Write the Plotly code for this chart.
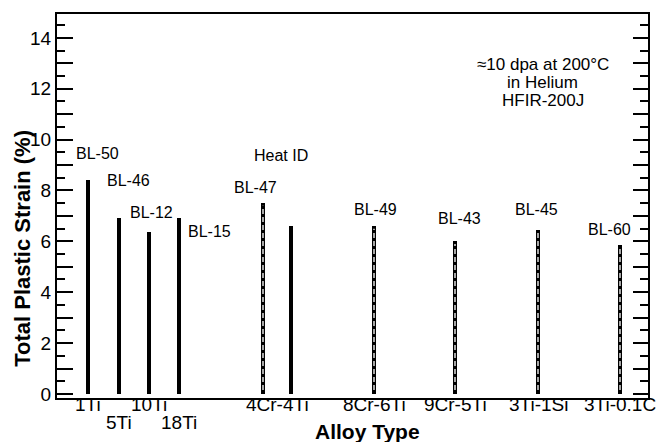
import plotly.graph_objects as go

# ---------------- data ----------------
alloys = ["1Ti", "5Ti", "10Ti", "18Ti", "4Cr-4Ti", "8Cr-6Ti", "9Cr-5Ti", "3Ti-1Si", "3Ti-0.1C"]
heat_ids = ["BL-50", "BL-46", "BL-12", "BL-15", "BL-47", "", "BL-49", "BL-43", "BL-45", "BL-60"]
heat_alloy = ["1Ti", "5Ti", "10Ti", "18Ti", "4Cr-4Ti", "4Cr-4Ti", "8Cr-6Ti", "9Cr-5Ti", "3Ti-1Si", "3Ti-0.1C"]
strain = [8.4, 6.9, 6.35, 6.9, 7.5, 6.6, 6.6, 6.0, 6.45, 5.85]
hatched = [False, False, False, False, True, False, True, True, True, True]

# ---------------- layout helpers ----------------
alloy_pos = {"1Ti": 31, "5Ti": 62, "10Ti": 92, "18Ti": 122, "4Cr-4Ti": 220,
             "8Cr-6Ti": 317, "9Cr-5Ti": 398, "3Ti-1Si": 481, "3Ti-0.1C": 563}
bar_offset = [0, 0, 0, 0, -14, 14, 0, 0, 0, 0]
label_row = {"5Ti": 1, "18Ti": 1}
label_off = [(9, 1.05), (9, 1.5), (2, 0.8), (30, -0.5), (-8, 0.62), (0, 0),
             (1, 0.67), (4, 0.88), (-2, 0.82), (-11, 0.6)]

FONT = "Liberation Sans, Arial, Helvetica, sans-serif"
YRANGE = [-0.16, 14.94]

bx = [alloy_pos[a] + o for a, o in zip(heat_alloy, bar_offset)]

fig = go.Figure()

solid_x = [x for x, h in zip(bx, hatched) if not h]
solid_y = [v for v, h in zip(strain, hatched) if not h]
hat_x = [x for x, h in zip(bx, hatched) if h]
hat_y = [v for v, h in zip(strain, hatched) if h]

fig.add_trace(go.Bar(x=solid_x, y=solid_y, width=3.5, marker=dict(color="black", line=dict(width=0)),
                     showlegend=False, hoverinfo="skip"))
fig.add_trace(go.Bar(x=hat_x, y=hat_y, width=4.5, marker=dict(color="black", line=dict(width=0)),
                     showlegend=False, hoverinfo="skip"))
lx, ly = [], []
for x, v in zip(hat_x, hat_y):
    lx += [x, x, None]
    ly += [0.15, v - 0.1, None]
fig.add_trace(go.Scatter(x=lx, y=ly, mode="lines",
                         line=dict(color="white", width=1.3, dash="5px,3px"),
                         showlegend=False, hoverinfo="skip"))

# right-side mirror axis (needs a trace to be drawn)
fig.add_trace(go.Scatter(x=[0], y=[0], yaxis="y2", mode="markers", marker=dict(opacity=0),
                         showlegend=False, hoverinfo="skip"))

ann = []
for hid, x, v, (dx, dy) in zip(heat_ids, bx, strain, label_off):
    if hid:
        ann.append(dict(x=x + dx, y=v + dy, xref="x", yref="y", text=hid, showarrow=False,
                        font=dict(family=FONT, size=16, color="black"), xanchor="center", yanchor="middle"))
ann.append(dict(x=224, y=9.39, xref="x", yref="y", text="Heat ID", showarrow=False,
                font=dict(family=FONT, size=16, color="black"), xanchor="center", yanchor="middle"))

for a in alloys:
    row = label_row.get(a, 0)
    ann.append(dict(x=alloy_pos[a], y=-0.016 if row == 0 else -0.064, xref="x", yref="paper",
                    text=a, showarrow=False, font=dict(family=FONT, size=19, color="black"),
                    xanchor="center", yanchor="middle"))

for t, yy in zip(["\u224810 dpa at 200\u00b0C", "in Helium", "HFIR-200J"], [0.868, 0.821, 0.774]):
    ann.append(dict(x=0.822, y=yy, xref="paper", yref="paper", text=t, showarrow=False,
                    font=dict(family=FONT, size=17, color="black"), xanchor="center", yanchor="middle"))

ann.append(dict(x=-0.059, y=0.389, xref="paper", yref="paper", text="<b>Total Plastic Strain (%)</b>",
                textangle=-90, showarrow=False, font=dict(family=FONT, size=22, color="black"),
                xanchor="center", yanchor="middle"))
ann.append(dict(x=0.526, y=-0.088, xref="paper", yref="paper", text="<b>Alloy Type</b>",
                showarrow=False, font=dict(family=FONT, size=21, color="black"),
                xanchor="center", yanchor="middle"))

minor = dict(dtick=1, tick0=0.5, ticks="inside", ticklen=8, tickwidth=2, tickcolor="#000000", showgrid=False)

fig.update_layout(
    width=662, height=442,
    margin=dict(l=57, r=14, t=12, b=44),
    paper_bgcolor="white", plot_bgcolor="white",
    bargap=0, barmode="overlay",
    annotations=ann,
    xaxis=dict(range=[0, 591], showgrid=False, zeroline=False, showline=True, linecolor="black",
               linewidth=2, mirror=True, ticks="", showticklabels=False, fixedrange=True),
    yaxis=dict(range=YRANGE, showgrid=False, zeroline=False, ticks="inside", tickcolor="#000000",
               tickwidth=2, ticklen=16, tickmode="linear", tick0=0, dtick=1,
               showline=True, linecolor="black", linewidth=2, mirror=True,
               labelalias={str(v): "" for v in range(1, 15, 2)},
               tickfont=dict(family=FONT, size=19, color="black"), minor=minor),
    yaxis2=dict(range=YRANGE, showgrid=False, zeroline=False, ticks="inside", tickcolor="#000000",
                tickwidth=2, ticklen=15, tickmode="linear", tick0=0, dtick=1,
                overlaying="y", side="right", anchor="x", showline=False, showticklabels=False,
                minor=minor),
    font=dict(family=FONT, color="black"),
)

fig.write_html("out.html")
